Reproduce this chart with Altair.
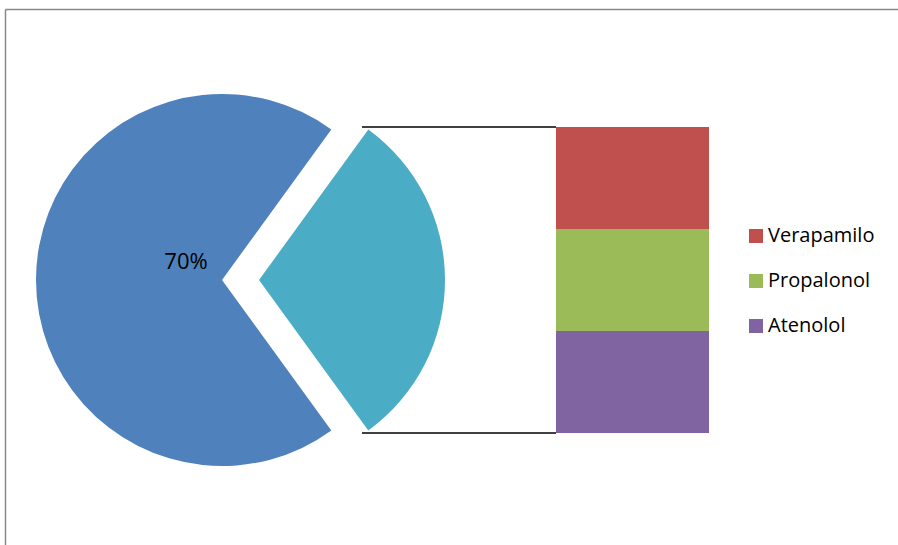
import math
import altair as alt
import pandas as pd

# --- data ---
pie_slices = ["Grupo", "Otros"]
pie_values = [30, 70]
pie_colors = ["#4BACC6", "#4F81BD"]

bar_categories = ["Verapamilo", "Propalonol", "Atenolol"]
bar_values = [10, 10, 10]
bar_colors = ["#C0504D", "#9BBB59", "#8064A2"]

pie_df = pd.DataFrame({"slice": pie_slices, "value": pie_values, "ord": list(range(len(pie_slices)))})
bar_df = pd.DataFrame({"cat": bar_categories, "value": bar_values,
                       "ord": list(range(len(bar_categories)))[::-1]})
conn_df = pd.DataFrame({"yv": [0, sum(bar_values)]})
frame_df = pd.DataFrame({"k": [0]})

theta_scale = alt.Scale(domain=[0, 100], range=[math.radians(36), math.radians(396)])
y_scale = alt.Scale(domain=[0, sum(bar_values)], range=[433, 127], nice=False, zero=False)

pie_base = (
    alt.Chart(pie_df)
    .transform_window(end="sum(value)", sort=[alt.SortField("ord")], frame=[None, 0])
    .transform_calculate(start="datum.end - datum.value", label="datum.value + '%'")
)

slice_small = pie_base.transform_filter(alt.datum.slice == "Grupo").mark_arc(
    outerRadius=186, color=pie_colors[0]
).encode(
    theta=alt.Theta("start:Q", scale=theta_scale),
    theta2="end:Q",
    x=alt.value(259),
    y=alt.value(280),
)

slice_big = pie_base.transform_filter(alt.datum.slice == "Otros").mark_arc(
    outerRadius=186, color=pie_colors[1]
).encode(
    theta=alt.Theta("start:Q", scale=theta_scale),
    theta2="end:Q",
    x=alt.value(222),
    y=alt.value(280),
)

label = pie_base.transform_filter(alt.datum.slice == "Otros").mark_text(
    font="Open Sans", fontSize=22, color="#000000", align="center", baseline="middle"
).encode(text="label:N", x=alt.value(186), y=alt.value(262))

bars = (
    alt.Chart(bar_df)
    .transform_window(top="sum(value)", sort=[alt.SortField("ord")], frame=[None, 0])
    .transform_calculate(bottom="datum.top - datum.value")
    .mark_rect()
    .encode(
        x=alt.value(556),
        x2=alt.value(709),
        y=alt.Y("top:Q", scale=y_scale, axis=None),
        y2="bottom:Q",
        color=alt.Color(
            "cat:N",
            scale=alt.Scale(domain=bar_categories, range=bar_colors),
            legend=alt.Legend(
                orient="none",
                legendX=746,
                legendY=226,
                title=None,
                symbolType="square",
                symbolSize=196,
                symbolStrokeWidth=0,
                labelFont="Open Sans",
                labelFontSize=20,
                labelColor="#000000",
                rowPadding=25,
                labelOffset=2,
            ),
        ),
    )
)

connectors = alt.Chart(conn_df).mark_rule(color="#000000", strokeWidth=1.5).encode(
    x=alt.value(362),
    x2=alt.value(556),
    y=alt.Y("yv:Q", scale=y_scale, axis=None),
)

frame_top = alt.Chart(frame_df).mark_rule(color="#888888", strokeWidth=1.5).encode(
    x=alt.value(5.5), x2=alt.value(1200), y=alt.value(9.5)
)
frame_left = alt.Chart(frame_df).mark_rule(color="#888888", strokeWidth=1.5).encode(
    x=alt.value(5.5), y=alt.value(9.5), y2=alt.value(1200)
)

chart = (
    alt.layer(frame_top, frame_left, slice_big, slice_small, connectors, bars, label)
    .properties(width=898, height=545, autosize="none", padding=0, background="white")
    .configure_view(stroke=None)
)

chart.save("out.html", embed_options={"renderer": "svg", "actions": False})
